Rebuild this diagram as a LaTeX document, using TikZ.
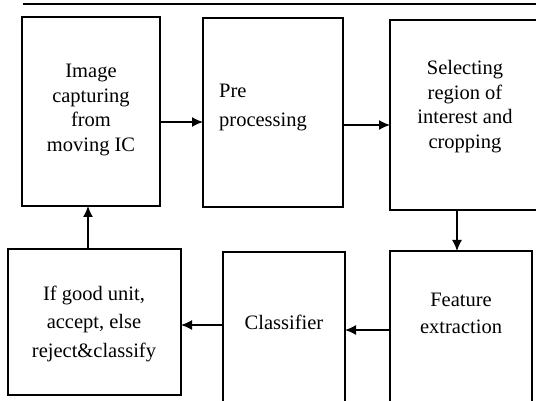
\documentclass[tikz,border=0pt]{standalone}
\usepackage{fontspec}
\setmainfont{Liberation Serif}
\usetikzlibrary{arrows.meta}
\tikzset{
  box/.style={draw, line width=1.8pt, minimum width=#1, inner sep=0pt, outer sep=0pt, anchor=north west},
  lbl/.style={inner sep=0pt, align=center, font=\fontsize{20.5}{#1}\selectfont},
  arr/.style={line width=1.4pt, -{Latex[length=11pt,width=10pt]}},
}
\begin{document}
\begin{tikzpicture}[x=1pt,y=-1pt]
\useasboundingbox (0,0) rectangle (536,401);
\clip (0,0) rectangle (536,401);
% rule across the top
\coordinate (rulel) at (23,4);
\coordinate (ruler) at (536,4);
\draw[line width=2.6pt] (rulel) -- (ruler);
% process blocks
\node[box=138, minimum height=189] (cap) at (22,17) {};
\node[box=140, minimum height=189] (pre) at (203,18) {};
\node[box=160, minimum height=190] (roi) at (390,20) {};
\node[box=142, minimum height=180] (feat) at (390,251) {};
\node[box=122, minimum height=180] (cls) at (223,252) {};
\node[box=173, minimum height=146] (dec) at (8,249) {};
% block texts
\node[lbl=24.7] (capt) at (91,110) {Image\\capturing\\from\\moving IC};
\node[lbl=29, anchor=west, align=left] (pret) at (219,108) {Pre\\processing};
\node[lbl=24.5] (roit) at (465,106.5) {Selecting\\region of\\interest and\\cropping};
\node[lbl=27] (featt) at (461,313) {Feature\\extraction};
\node[lbl=24] (clst) at (284,322) {Classifier};
\node[lbl=28.5] (dect) at (94,323.5) {If good unit,\\accept, else\\reject\&classify};
% flow arrows
\draw[arr] (cap.east |- 0,122) -- (pre.west |- 0,122);
\draw[arr] (pre.east |- 0,125) -- (roi.west |- 0,125);
\draw[arr] (roi.south -| 457,0) -- (feat.north -| 457,0);
\draw[arr] (feat.west |- 0,330) -- (cls.east |- 0,330);
\draw[arr] (cls.west |- 0,325) -- (dec.east |- 0,325);
\draw[arr] (dec.north -| 88,0) -- (cap.south -| 88,0);
\end{tikzpicture}
\end{document}
